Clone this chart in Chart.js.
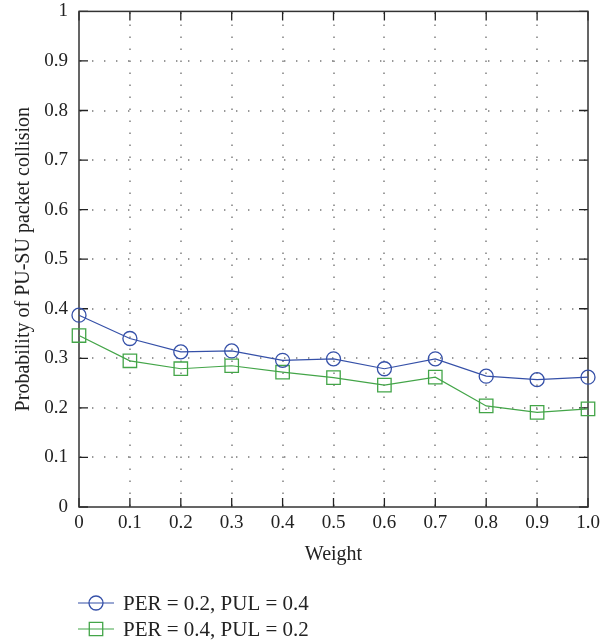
<!DOCTYPE html>
<html>
<head>
<meta charset="utf-8">
<script src="https://cdn.jsdelivr.net/npm/chart.js@4/dist/chart.umd.min.js"></script>
<style>
  html, body { margin: 0; padding: 0; background: #fff; }
  #wrap { width: 616px; height: 644px; position: relative; }
</style>
</head>
<body>
<div id="wrap"><canvas id="chart"></canvas></div>
<script>
// weights on the x axis
const weights = [0, 0.1, 0.2, 0.3, 0.4, 0.5, 0.6, 0.7, 0.8, 0.9, 1.0];

// collision probability for each parameter set
const collisionA = [0.387, 0.340, 0.313, 0.315, 0.296, 0.299, 0.279, 0.299, 0.264, 0.257, 0.262];
const collisionB = [0.346, 0.295, 0.279, 0.285, 0.272, 0.261, 0.246, 0.262, 0.204, 0.191, 0.198];

const seriesLabels = ['PER = 0.2, PUL = 0.4', 'PER = 0.4, PUL = 0.2'];

const FONT = "'Liberation Serif', 'DejaVu Serif', serif";
const BLUE = '#3550a8';
const GREEN = '#43a548';

const toPoints = (ys) => weights.map((x, i) => ({ x: x, y: ys[i] }));

// dotted grid, inward tick marks and the box around the plot
const frameGrid = {
  id: 'frameGrid',
  beforeDatasetsDraw(chart) {
    const { ctx, chartArea: a, scales: { x, y } } = chart;
    ctx.save();
    ctx.strokeStyle = '#777';
    ctx.lineWidth = 1.4;
    ctx.setLineDash([1.4, 10.6]);

    // horizontal dotted lines
    y.ticks.forEach(t => {
      if (t.value <= 0 || t.value >= 1) return;
      const py = Math.round(y.getPixelForValue(t.value));
      ctx.beginPath(); ctx.moveTo(a.left + 1, py); ctx.lineTo(a.right, py); ctx.stroke();
    });
    // vertical dotted lines
    x.ticks.forEach(t => {
      if (t.value <= 0 || t.value >= 1) return;
      const px = Math.round(x.getPixelForValue(t.value));
      ctx.beginPath(); ctx.moveTo(px, a.bottom - 1); ctx.lineTo(px, a.top); ctx.stroke();
    });

    // tick marks pointing into the plot
    ctx.setLineDash([]);
    ctx.strokeStyle = '#222';
    ctx.lineWidth = 1.3;
    const len = 9;
    y.ticks.forEach(t => {
      const py = y.getPixelForValue(t.value);
      ctx.beginPath();
      ctx.moveTo(a.left, py); ctx.lineTo(a.left + len, py);
      ctx.moveTo(a.right, py); ctx.lineTo(a.right - len, py);
      ctx.stroke();
    });
    x.ticks.forEach(t => {
      const px = x.getPixelForValue(t.value);
      ctx.beginPath();
      ctx.moveTo(px, a.bottom); ctx.lineTo(px, a.bottom - len);
      ctx.moveTo(px, a.top); ctx.lineTo(px, a.top + len);
      ctx.stroke();
    });

    ctx.strokeStyle = '#333';
    ctx.lineWidth = 1.5;
    ctx.strokeRect(a.left, a.top, a.right - a.left, a.bottom - a.top);
    ctx.restore();
  }
};

// legend under the axis: short line with the marker on it, then the label
const lineLegend = {
  id: 'lineLegend',
  afterDraw(chart) {
    const { ctx } = chart;
    ctx.save();
    chart.data.datasets.forEach((ds, i) => {
      const cy = 603 + i * 26;
      ctx.strokeStyle = ds.borderColor;
      ctx.fillStyle = 'rgba(0,0,0,0)';
      ctx.lineWidth = 1.2;
      ctx.beginPath(); ctx.moveTo(78, cy); ctx.lineTo(114, cy); ctx.stroke();
      ctx.lineWidth = ds.pointBorderWidth;
      Chart.helpers.drawPoint(ctx, {
        pointStyle: ds.pointStyle,
        radius: ds.pointRadius,
        borderWidth: ds.pointBorderWidth
      }, 96, cy);
      ctx.fillStyle = '#222';
      ctx.font = '21px ' + FONT;
      ctx.textBaseline = 'middle';
      ctx.fillText(ds.label, 123, cy + 1);
    });
    ctx.restore();
  }
};

// invisible library grid, used only to space the tick labels off the axes
const hiddenGrid = (len) => ({ color: 'rgba(0,0,0,0)', drawTicks: true, tickLength: len });

new Chart(document.getElementById('chart'), {
  type: 'line',
  data: {
    datasets: [
      {
        label: seriesLabels[0],
        data: toPoints(collisionA),
        borderColor: BLUE,
        borderWidth: 1.2,
        pointStyle: 'circle',
        pointRadius: 7,
        pointBorderWidth: 1.3,
        pointBorderColor: BLUE,
        pointBackgroundColor: 'rgba(0,0,0,0)',
        tension: 0,
        clip: false
      },
      {
        label: seriesLabels[1],
        data: toPoints(collisionB),
        borderColor: GREEN,
        borderWidth: 1.2,
        pointStyle: 'rect',
        pointRadius: 9.5,
        pointBorderWidth: 1.3,
        pointBorderColor: GREEN,
        pointBackgroundColor: 'rgba(0,0,0,0)',
        tension: 0,
        clip: false
      }
    ]
  },
  options: {
    responsive: true,
    maintainAspectRatio: false,
    animation: false,
    layout: { padding: { left: 0, right: 28, top: 0, bottom: 73 } },
    plugins: {
      legend: { display: false },
      tooltip: { enabled: false }
    },
    scales: {
      x: {
        type: 'linear',
        min: 0,
        max: 1,
        grid: hiddenGrid(5),
        border: { display: false },
        ticks: {
          stepSize: 0.1,
          padding: 0,
          color: '#222',
          font: { family: FONT, size: 19 },
          maxRotation: 0,
          callback: v => (v === 0 ? '0' : Number(v).toFixed(1))
        },
        title: {
          display: true,
          text: 'Weight',
          color: '#222',
          font: { family: FONT, size: 20 },
          padding: { top: 0, bottom: 4 }
        },
        afterFit: s => { s.height = 64; }
      },
      y: {
        min: 0,
        max: 1,
        grid: hiddenGrid(11),
        border: { display: false },
        ticks: {
          stepSize: 0.1,
          padding: 0,
          color: '#222',
          font: { family: FONT, size: 19 },
          callback: v => (v === 0 ? '0' : v === 1 ? '1' : Number(v).toFixed(1))
        },
        title: {
          display: true,
          text: 'Probability of PU-SU packet collision',
          color: '#222',
          font: { family: FONT, size: 20 },
          padding: { top: 12, bottom: 0 }
        },
        afterFit: s => { s.width = 79; }
      }
    }
  },
  plugins: [frameGrid, lineLegend]
});
</script>
</body>
</html>
